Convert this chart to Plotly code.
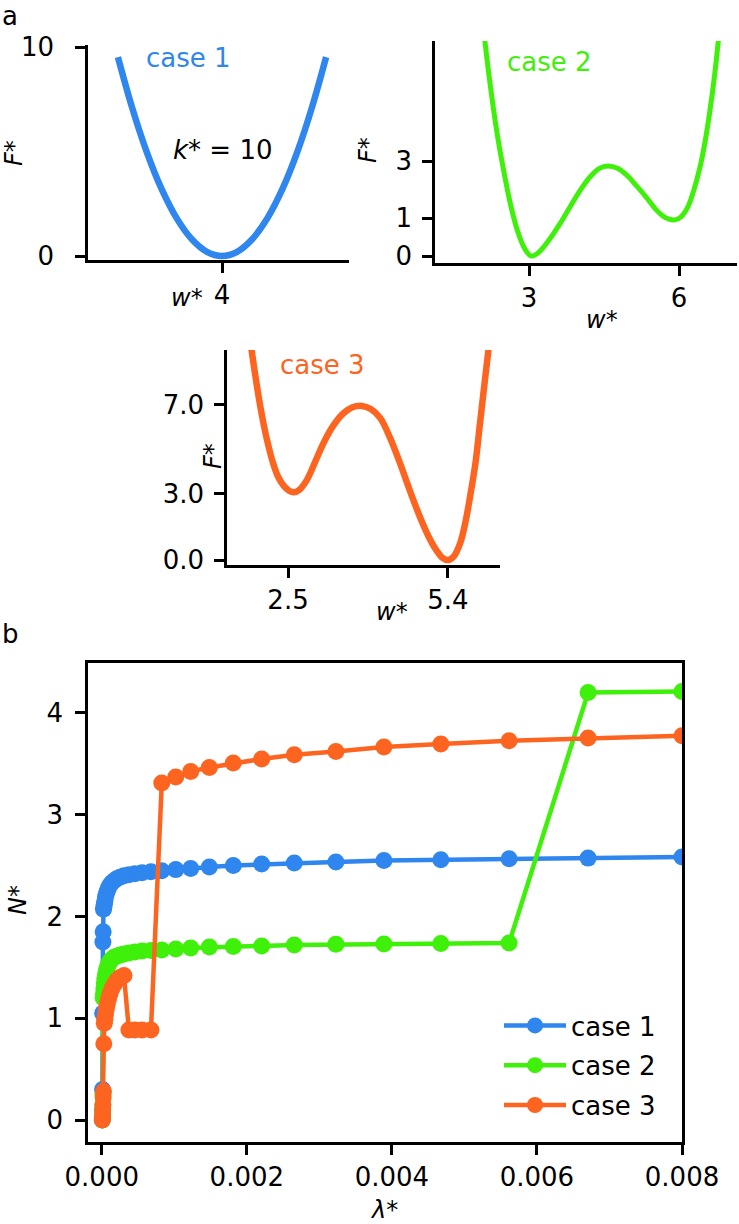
import plotly.graph_objects as go

W, H = 739, 1224
FONT = "DejaVu Sans"
BLUE = "#2e86ee"
GREEN = "#3ff00a"
ORANGE = "#fd6420"

# ---------- panel a data ----------
case1_w = [2.62, 2.80, 3.00, 3.20, 3.40, 3.60, 3.80, 4.00, 4.20, 4.40, 4.60, 4.80, 5.00, 5.20, 5.38]
case1_F = [9.52, 7.20, 5.00, 3.20, 1.80, 0.80, 0.20, 0.00, 0.20, 0.80, 1.80, 3.20, 5.00, 7.20, 9.52]

case2_w = [2.08, 2.20, 2.36, 2.50, 2.64, 2.78, 2.92, 3.04, 3.18, 3.40, 3.62, 3.82, 4.02, 4.22, 4.40,
           4.58, 4.78, 4.96, 5.16, 5.36, 5.54, 5.68, 5.80, 5.92, 6.04, 6.18, 6.30, 6.42, 6.52, 6.62,
           6.72, 6.82]
case2_F = [6.10, 4.75, 3.24, 2.20, 1.30, 0.62, 0.18, 0.00, 0.08, 0.42, 0.85, 1.29, 1.72, 2.08, 2.30,
           2.37, 2.30, 2.12, 1.83, 1.52, 1.22, 1.05, 0.97, 0.95, 1.03, 1.30, 1.75, 2.34, 3.00, 3.84,
           4.85, 6.10]
case2_yticks = [0, 1, 2.5]
case2_yticktext = ["0", "1", "3"]

case3_w = [1.82, 1.92, 2.02, 2.12, 2.23, 2.32, 2.42, 2.52, 2.60, 2.70, 2.84, 2.98, 3.14, 3.32, 3.50,
           3.67, 3.84, 4.00, 4.17, 4.35, 4.53, 4.71, 4.89, 5.05, 5.20, 5.30, 5.40, 5.50, 5.62, 5.72,
           5.80, 5.90, 5.98, 6.06, 6.15]
case3_F = [9.80, 8.10, 6.61, 5.40, 4.36, 3.75, 3.35, 3.12, 3.05, 3.15, 3.60, 4.35, 5.25, 6.05, 6.60,
           6.88, 6.94, 6.80, 6.40, 5.50, 4.36, 3.12, 1.95, 1.05, 0.40, 0.10, 0.00, 0.15, 0.75, 1.75,
           2.85, 4.40, 6.16, 7.90, 9.80]

# ---------- panel b data ----------
lam = [0.0080, 0.006705, 0.005616, 0.004675, 0.00389, 0.003228, 0.002654, 0.002205,
       0.001813, 0.001483, 0.001226, 0.00102, 0.000827, 0.000678, 0.000556, 0.000456,
       0.000374, 0.000306, 0.000251, 0.000206, 0.000169, 0.000138, 0.000113, 0.0000929,
       0.0000762, 0.0000624, 0.0000512, 0.000042, 0.0000344, 0.0000282, 0.0000231,
       0.000019, 0.0000155, 0.0000127, 0.0000104, 0.0000086, 0.000007]

N_case1 = [2.583, 2.573, 2.566, 2.556, 2.550, 2.535, 2.525, 2.515, 2.500, 2.485, 2.470, 2.460,
           2.450, 2.440, 2.430, 2.420, 2.410, 2.400, 2.385, 2.370, 2.350, 2.330, 2.310, 2.280,
           2.250, 2.220, 2.190, 2.150, 2.120, 2.090, 2.070, 1.850, 1.750, 1.050, 0.300, 0.100, 0.000]
N_case2 = [4.210, 4.200, 1.740, 1.735, 1.730, 1.728, 1.720, 1.710, 1.705, 1.700, 1.690, 1.680,
           1.670, 1.665, 1.660, 1.650, 1.640, 1.630, 1.620, 1.610, 1.600, 1.580, 1.560, 1.530,
           1.500, 1.470, 1.430, 1.390, 1.340, 1.290, 1.240, 1.200, 0.250, 0.150, 0.080, 0.030, 0.000]
N_case3 = [3.776, 3.753, 3.727, 3.694, 3.665, 3.620, 3.589, 3.547, 3.507, 3.464, 3.425, 3.370,
           3.310, 0.885, 0.885, 0.885, 0.885, 1.420, 1.400, 1.370, 1.330, 1.290, 1.240, 1.190,
           1.140, 1.090, 1.040, 0.990, 0.950, 0.750, 0.280, 0.220, 0.150, 0.100, 0.050, 0.020, 0.000]


def px(x):
    return x / W


def py(y):
    return 1 - y / H


fig = go.Figure()

# panel a curves
fig.add_trace(go.Scatter(x=case1_w, y=case1_F, mode="lines", line=dict(color=BLUE, width=6.5, shape="spline"),
                         xaxis="x", yaxis="y", showlegend=False))
fig.add_trace(go.Scatter(x=case2_w, y=case2_F, mode="lines", line=dict(color=GREEN, width=5, shape="spline"),
                         xaxis="x2", yaxis="y2", showlegend=False))
fig.add_trace(go.Scatter(x=case3_w, y=case3_F, mode="lines", line=dict(color=ORANGE, width=6.5, shape="spline"),
                         xaxis="x3", yaxis="y3", showlegend=False))

# panel b
for name, vals, col in [("case 1", N_case1, BLUE), ("case 2", N_case2, GREEN), ("case 3", N_case3, ORANGE)]:
    fig.add_trace(go.Scatter(x=lam, y=vals, mode="lines+markers", name=name, legendgroup=name,
                             line=dict(color=col, width=4.5), marker=dict(color=col, size=17),
                             xaxis="x4", yaxis="y4"))

ax_common = dict(showgrid=False, zeroline=False, showline=True, linecolor="black", linewidth=2.5,
                 ticks="outside", ticklen=10, tickwidth=2.5, tickcolor="black", automargin=False,
                 tickfont=dict(family=FONT, size=26, color="black"))

fig.update_layout(
    width=W, height=H, margin=dict(l=0, r=0, t=0, b=0, autoexpand=False),
    paper_bgcolor="white", plot_bgcolor="white",
    font=dict(family=FONT, color="black"),
    xaxis=dict(domain=[px(88), px(349)], range=[2.223, 5.684], anchor="y",
               tickvals=[4], ticktext=["4"], **ax_common),
    yaxis=dict(domain=[py(260), py(45)], range=[-0.19, 10.1], anchor="x",
               tickvals=[0, 10], ticktext=["0", "10"], ticklabelstandoff=16, **ax_common),
    xaxis2=dict(domain=[px(435), px(737)], range=[1.12, 7.16], anchor="y2",
                tickvals=[3, 6], ticktext=["3", "6"], **ax_common),
    yaxis2=dict(domain=[py(263), py(41)], range=[-0.184, 5.658], anchor="x2",
                tickvals=case2_yticks, ticktext=case2_yticktext, ticklabelstandoff=5, **ax_common),
    xaxis3=dict(domain=[px(227), px(500)], range=[1.394, 6.343], anchor="y3",
                tickvals=[2.5, 5.4], ticktext=["2.5", "5.4"], **ax_common),
    yaxis3=dict(domain=[py(565), py(350)], range=[-0.225, 9.46], anchor="x3",
                tickvals=[0, 3, 7], tickformat=".1f", ticklabelstandoff=5, **ax_common),
    xaxis4=dict(domain=[px(88), px(682)], range=[-0.00019, 0.008], anchor="y4", mirror=True,
                tickvals=[0, 0.002, 0.004, 0.006, 0.008], tickformat=".3f", **ax_common),
    yaxis4=dict(domain=[py(1142), py(663)], range=[-0.216, 4.49], anchor="x4", mirror=True,
                tickvals=[0, 1, 2, 3, 4], ticklabelstandoff=7, **ax_common),
    legend=dict(x=px(499), y=py(1002), xanchor="left", yanchor="top", bgcolor="rgba(0,0,0,0)",
                font=dict(family=FONT, size=26, color="black"), itemwidth=62, tracegroupgap=3),
)

ann = []


def add_text(text, x, y, size=24, color="black", angle=0):
    ann.append(dict(text=text, x=px(x), y=py(y), xref="paper", yref="paper", showarrow=False,
                    xanchor="center", yanchor="middle", textangle=angle,
                    font=dict(family=FONT, size=size, color=color)))


add_text("a", 10, 16, size=26)
add_text("b", 10, 634, size=26)
add_text("case 1", 188, 58, size=26, color=BLUE)
add_text("<i>k</i>* = 10", 223, 150, size=26)
add_text("case 2", 549, 62, size=26, color=GREEN)
add_text("case 3", 322, 365, size=26, color=ORANGE)
add_text("<i>F*</i>", 14, 153, angle=-90)
add_text("<i>F*</i>", 368, 150, angle=-90)
add_text("<i>F*</i>", 213, 456, angle=-90)
add_text("<i>w*</i>", 187, 298)
add_text("<i>w*</i>", 602, 320)
add_text("<i>w*</i>", 392, 612)
add_text("<i>N*</i>", 18, 900, angle=-90)
add_text("<i>λ*</i>", 384, 1210)
fig.update_layout(annotations=ann)

# remove the browser's default 8px page margin so the figure fills the window exactly
fig.write_html("out.html", config={"displayModeBar": False},
               post_script="document.body.style.margin='0';document.body.style.overflow='hidden';")
